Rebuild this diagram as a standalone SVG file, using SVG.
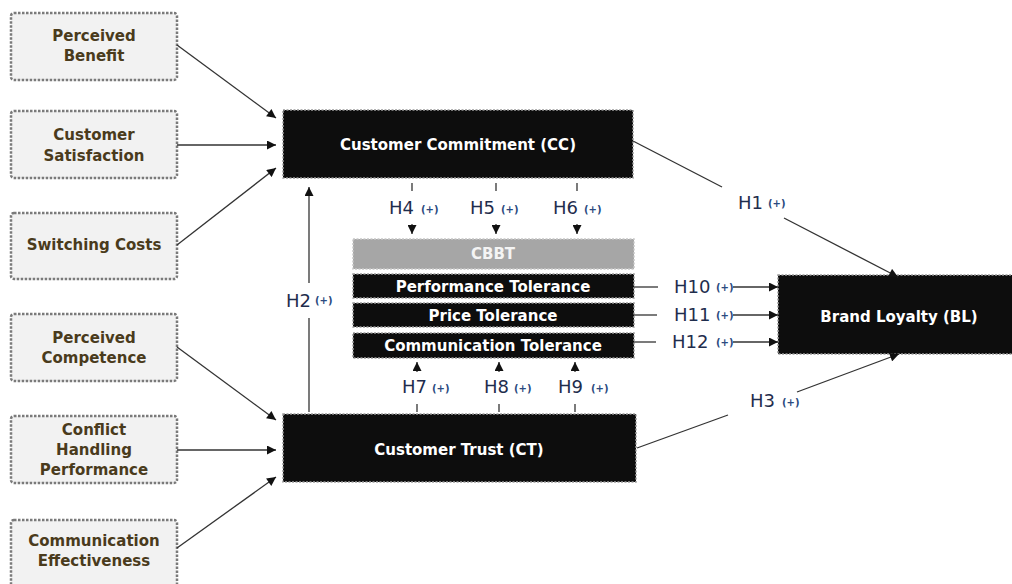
<svg xmlns="http://www.w3.org/2000/svg" width="1012" height="584" viewBox="0 0 1012 584">
<defs>
<marker id="ah" viewBox="0 0 10 10" refX="10" refY="5" markerWidth="10" markerHeight="9" markerUnits="userSpaceOnUse" orient="auto">
<path d="M0,0 L10,5 L0,10 z" fill="#111"/>
</marker>
</defs>
<style>
.src rect{fill:#f2f2f2;stroke:#7a7a7a;stroke-width:2.5;stroke-dasharray:2.5 1.5}
.src text{font-family:"DejaVu Sans",Verdana,sans-serif;font-weight:bold;font-size:15px;fill:#4a3b1c;text-anchor:middle}
.dk rect{fill:#0d0d0d;stroke:#9a9a9a;stroke-width:1.5;stroke-dasharray:2 1.5}
.dk text{font-family:"DejaVu Sans",Verdana,sans-serif;font-weight:bold;font-size:15px;fill:#ffffff;text-anchor:middle}
.gr rect{fill:#a6a6a6;stroke:#c8c8c8;stroke-width:1.5;stroke-dasharray:2 1.5}
.gr text{font-family:"DejaVu Sans",Verdana,sans-serif;font-weight:bold;font-size:15px;fill:#f4f4f4;text-anchor:middle}
.cn line{stroke:#333;stroke-width:1.3}
.arr{marker-end:url(#ah)}
.hl{font-family:"DejaVu Sans",Verdana,sans-serif;font-size:18px;fill:#1f2d4d}
.pl{font-family:"DejaVu Sans",Verdana,sans-serif;font-size:10px;font-weight:bold;fill:#2b4a80}
</style>

<g id="perceived-benefit" class="src"><rect x="11" y="13" width="166" height="67" rx="3"/><text x="94" y="41">Perceived</text><text x="94" y="61">Benefit</text></g>
<g id="customer-satisfaction" class="src"><rect x="11" y="111" width="166" height="67" rx="3"/><text x="94" y="140">Customer</text><text x="94" y="161">Satisfaction</text></g>
<g id="switching-costs" class="src"><rect x="11" y="213" width="166" height="66" rx="3"/><text x="94" y="250">Switching Costs</text></g>
<g id="perceived-competence" class="src"><rect x="11" y="314" width="166" height="67" rx="3"/><text x="94" y="343">Perceived</text><text x="94" y="363">Competence</text></g>
<g id="conflict-handling" class="src"><rect x="11" y="416" width="166" height="67" rx="3"/><text x="94" y="435">Conflict</text><text x="94" y="455">Handling</text><text x="94" y="475">Performance</text></g>
<g id="communication-effectiveness" class="src"><rect x="11" y="520" width="166" height="68" rx="3"/><text x="94" y="546">Communication</text><text x="94" y="566">Effectiveness</text></g>

<g id="customer-commitment" class="dk"><rect x="283" y="110" width="350" height="68"/><text x="458" y="150">Customer Commitment (CC)</text></g>
<g id="customer-trust" class="dk"><rect x="283" y="414" width="353" height="68"/><text x="459" y="455">Customer Trust (CT)</text></g>
<g id="cbbt" class="gr"><rect x="353" y="239" width="281" height="30"/><text x="493" y="259">CBBT</text></g>
<g id="performance-tolerance" class="dk"><rect x="353" y="274" width="281" height="24"/><text x="493" y="292">Performance Tolerance</text></g>
<g id="price-tolerance" class="dk"><rect x="353" y="303" width="281" height="24"/><text x="493" y="321">Price Tolerance</text></g>
<g id="communication-tolerance" class="dk"><rect x="353" y="333" width="281" height="25"/><text x="493" y="351">Communication Tolerance</text></g>
<g id="brand-loyalty" class="dk"><rect x="778" y="275" width="240" height="79"/><text x="899" y="322">Brand Loyalty (BL)</text></g>

<g id="connectors" class="cn">
<line class="arr" x1="177" y1="45" x2="276" y2="118"/>
<line class="arr" x1="177" y1="145" x2="276" y2="145"/>
<line class="arr" x1="177" y1="245" x2="276" y2="168"/>
<line class="arr" x1="177" y1="347" x2="276" y2="420"/>
<line class="arr" x1="177" y1="450" x2="276" y2="450"/>
<line class="arr" x1="177" y1="548" x2="276" y2="477"/>
<line x1="309" y1="412" x2="309" y2="318"/>
<line class="arr" x1="309" y1="283" x2="309" y2="187"/>
<line x1="633" y1="141" x2="722" y2="187"/>
<line class="arr" x1="784" y1="218" x2="898" y2="277"/>
<line x1="637" y1="448" x2="728" y2="415"/>
<line class="arr" x1="797" y1="392" x2="899" y2="354"/>
<line x1="634" y1="287" x2="658" y2="287"/>
<line class="arr" x1="733" y1="287" x2="778" y2="287"/>
<line x1="634" y1="315" x2="657" y2="315"/>
<line class="arr" x1="733" y1="315" x2="778" y2="315"/>
<line x1="634" y1="342" x2="656" y2="342"/>
<line class="arr" x1="733" y1="342" x2="778" y2="342"/>
<line x1="412" y1="183" x2="412" y2="191"/>
<line x1="496" y1="183" x2="496" y2="191"/>
<line x1="577" y1="183" x2="577" y2="191"/>
<line class="arr" x1="412" y1="224" x2="412" y2="234"/>
<line class="arr" x1="496" y1="224" x2="496" y2="234"/>
<line class="arr" x1="577" y1="224" x2="577" y2="234"/>
<line x1="417" y1="404" x2="417" y2="412"/>
<line x1="499" y1="404" x2="499" y2="412"/>
<line x1="575" y1="404" x2="575" y2="412"/>
<line class="arr" x1="417" y1="372" x2="417" y2="362"/>
<line class="arr" x1="499" y1="372" x2="499" y2="362"/>
<line class="arr" x1="575" y1="372" x2="575" y2="362"/>
</g>

<g id="labels">
<text class="hl" x="389" y="214">H4</text><text class="pl" x="421" y="213">(+)</text>
<text class="hl" x="470" y="214">H5</text><text class="pl" x="501" y="213">(+)</text>
<text class="hl" x="553" y="214">H6</text><text class="pl" x="584" y="213">(+)</text>
<text class="hl" x="402" y="393">H7</text><text class="pl" x="432" y="392">(+)</text>
<text class="hl" x="484" y="393">H8</text><text class="pl" x="514" y="392">(+)</text>
<text class="hl" x="558" y="393">H9</text><text class="pl" x="591" y="392">(+)</text>
<text class="hl" x="674" y="293">H10</text><text class="pl" x="716" y="291">(+)</text>
<text class="hl" x="674" y="321">H11</text><text class="pl" x="716" y="319">(+)</text>
<text class="hl" x="672" y="348">H12</text><text class="pl" x="716" y="346">(+)</text>
<text class="hl" x="738" y="209">H1</text><text class="pl" x="768" y="207">(+)</text>
<text class="hl" x="750" y="407">H3</text><text class="pl" x="782" y="406">(+)</text>
<text class="hl" x="286" y="307">H2</text><text class="pl" x="315" y="304">(+)</text>
</g>
</svg>
